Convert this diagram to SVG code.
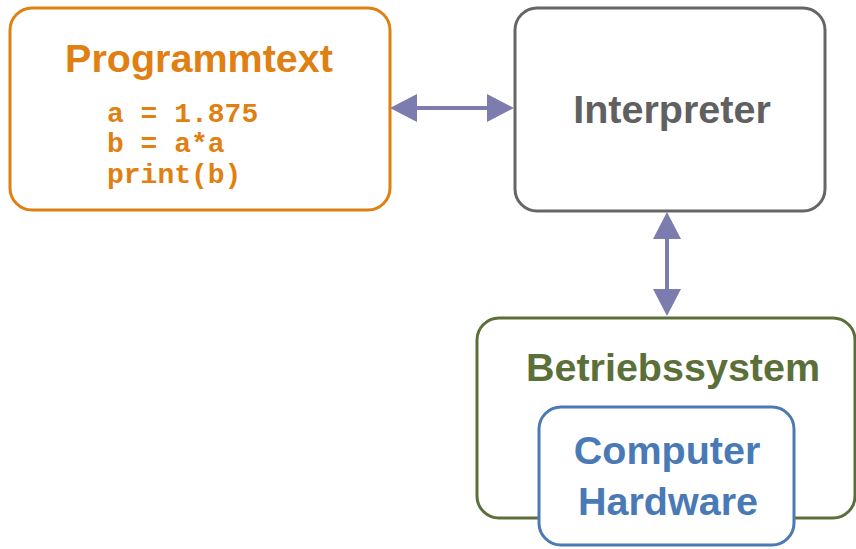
<svg xmlns="http://www.w3.org/2000/svg" width="856" height="549" viewBox="0 0 856 549">
<style>
.box{fill:#fff;stroke-width:3}
.t{font-family:"Liberation Sans",Arial,sans-serif;font-weight:bold;font-size:39.5px;text-anchor:middle}
.code{font-family:"Liberation Mono","Courier New",monospace;font-weight:bold;font-size:28px;fill:#E07F12}
.conn{stroke:#7C7CAE;stroke-width:4;fill:none}
</style>
<defs>
<marker id="ah" markerUnits="userSpaceOnUse" viewBox="0 0 27 28" markerWidth="27" markerHeight="28" refX="0" refY="14" orient="auto-start-reverse">
<path d="M0,0 L27,14 L0,28 z" fill="#7C7CAE"/>
</marker>
</defs>
<g id="programmtext">
<rect class="box" x="10" y="8" width="380" height="202" rx="22" stroke="#E07F12"/>
<text class="t" x="199" y="72" fill="#E07F12">Programmtext</text>
<text class="code" x="107" y="122">a = 1.875</text>
<text class="code" x="107" y="152">b = a*a</text>
<text class="code" x="107" y="183">print(b)</text>
</g>
<g id="interpreter">
<rect class="box" x="515" y="8" width="310" height="203" rx="22" stroke="#666"/>
<text class="t" x="672" y="123" fill="#606060">Interpreter</text>
</g>
<g id="betriebssystem">
<rect class="box" x="477" y="318" width="378" height="200" rx="22" stroke="#5B7038"/>
<text class="t" x="673" y="381" fill="#5B7038">Betriebssystem</text>
</g>
<g id="hardware">
<rect class="box" x="539" y="407" width="255" height="138" rx="22" stroke="#4A7AB5"/>
<text class="t" x="667" y="464" fill="#4A7AB5">Computer</text>
<text class="t" x="668" y="515" fill="#4A7AB5">Hardware</text>
</g>
<g id="connectors">
<path class="conn" d="M417,108 L487,108" marker-start="url(#ah)" marker-end="url(#ah)"/>
<path class="conn" d="M667,239 L667,289" marker-start="url(#ah)" marker-end="url(#ah)"/>
</g>
</svg>
